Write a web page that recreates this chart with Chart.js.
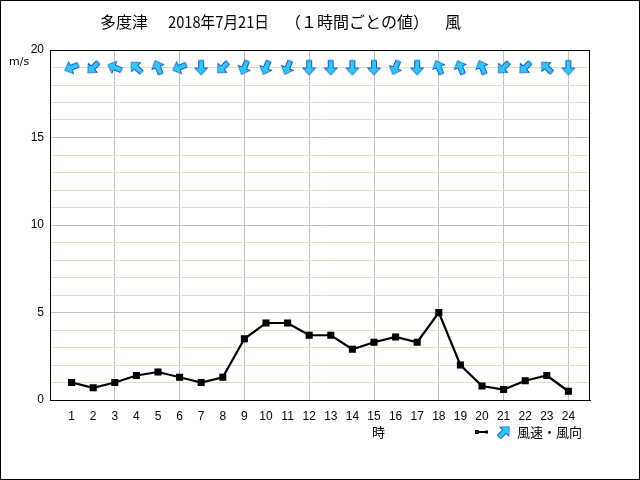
<!DOCTYPE html>
<html><head><meta charset="utf-8">
<script src="https://cdn.jsdelivr.net/npm/chart.js@4.4.0/dist/chart.umd.min.js"></script>
<style>html,body{margin:0;padding:0;background:#fff;}</style>
</head><body>
<canvas id="c" width="640" height="480"></canvas>
<script>
const hours = [1,2,3,4,5,6,7,8,9,10,11,12,13,14,15,16,17,18,19,20,21,22,23,24];
const windSpeed = [1.0,0.7,1.0,1.4,1.6,1.3,1.0,1.3,3.5,4.4,4.4,3.7,3.7,2.9,3.3,3.6,3.3,5.0,2.0,0.8,0.6,1.1,1.4,0.5];
const windDir = ["ENE","NE","ESE","SE","SSE","ENE","N","NE","NNE","NNE","NNE","N","N","N","N","NNE","N","SSE","SSE","SSE","NE","NE","SE","N"];
const yTickLabels = [0,5,10,15,20];
const arrowRowY = 19;
const titleParts = ["多度津", "2018年7月21日", "（１時間ごとの値）", "風"];
const unitText = "m/s";
const xTitleText = "時";
const legendText = "風速・風向";

const compass = ["N","NNE","NE","ENE","E","ESE","SE","SSE","S","SSW","SW","WSW","W","WNW","NW","NNW"];

function makeArrow(){
  const c = document.createElement('canvas');
  c.width = 18; c.height = 18;
  const g = c.getContext('2d');
  g.beginPath();
  g.moveTo(9,1.5); g.lineTo(15.5,8.5); g.lineTo(11.5,8.5); g.lineTo(11.5,16);
  g.lineTo(6.5,16); g.lineTo(6.5,8.5); g.lineTo(2.5,8.5); g.closePath();
  g.fillStyle = '#36c4f7'; g.fill();
  g.strokeStyle = '#0a5fc0'; g.lineWidth = 1; g.stroke();
  return c;
}
const arrowImg = makeArrow();

const cjk = '"Noto Sans CJK JP", sans-serif';

const decor = {
  id: 'decor',
  afterDraw(chart){
    const ctx = chart.ctx, a = chart.chartArea;
    ctx.save();
    ctx.strokeStyle = '#000'; ctx.lineWidth = 1;
    ctx.strokeRect(a.left+0.5, a.top+0.5, a.right-a.left-1, a.bottom-a.top);
    ctx.strokeRect(0.5,0.5,639,479);
    ctx.fillStyle = '#000';
    ctx.textBaseline = 'middle';
    ctx.font = '16px ' + cjk;
    ctx.textAlign = 'left';
    const tx = [100, 168, 285, 445];
    const tw = [52, 101, 148, 16];
    titleParts.forEach((t,i)=>ctx.fillText(t, tx[i], 22, tw[i]));
    ctx.font = '11px "DejaVu Sans", sans-serif';
    ctx.fillText(unitText, 9, 62);
    ctx.font = '13px ' + cjk;
    ctx.fillText(xTitleText, 372, 432);
    // legend
    ctx.lineWidth = 2;
    ctx.beginPath(); ctx.moveTo(476,432); ctx.lineTo(487,432); ctx.stroke();
    ctx.fillRect(475,430,4,4); ctx.fillRect(485,430.5,3,3);
    ctx.translate(504,432); ctx.rotate(Math.PI/4);
    ctx.drawImage(arrowImg,-9,-9);
    ctx.setTransform(1,0,0,1,0,0);
    ctx.font = '13px ' + cjk;
    ctx.fillText(legendText, 517, 432);
    ctx.restore();
  }
};

new Chart(document.getElementById('c'), {
  type: 'line',
  data: {
    datasets: [
      {
        data: hours.map((h,i)=>({x:h, y:windSpeed[i]})),
        borderColor: '#000', backgroundColor: '#000', borderWidth: 2.2,
        pointStyle: 'rect', pointRadius: 5, pointBackgroundColor:'#000', pointBorderWidth:0,
        tension: 0
      },
      {
        data: hours.map(h=>({x:h, y:arrowRowY})),
        showLine: false,
        pointStyle: arrowImg,
        pointRadius: 9,
        rotation: (ctx)=> compass.indexOf(windDir[ctx.dataIndex]) * 22.5 + 180
      }
    ]
  },
  options: {
    responsive: false, animation: false, devicePixelRatio: 1,
    layout: { padding: { top: 50, right: 50, left: 0, bottom: 0 } },
    plugins: { legend: {display:false}, tooltip: {enabled:false}, title:{display:false} },
    scales: {
      x: {
        type: 'linear', min: 0, max: 25,
        afterBuildTicks: (axis)=>{ axis.ticks = hours.map(v=>({value:v})); },
        afterFit: (axis)=>{ axis.height = 80; },
        grid: { drawTicks:false, color: (c)=> (c.tick && c.tick.value % 3 === 0) ? '#c0c0c0' : 'rgba(0,0,0,0)', lineWidth:1 },
        border: { color:'#000' },
        ticks: { autoSkip:false, maxRotation:0, padding: 9, color:'#000',
          font: { family:'"Liberation Sans", sans-serif', size: 12 } }
      },
      y: {
        min: 0, max: 20,
        afterFit: (axis)=>{ axis.width = 50; },
        ticks: { stepSize: 1, padding: 6, color:'#000',
          callback: (v)=> yTickLabels.includes(v) ? String(v) : '',
          font: { family:'"Liberation Sans", sans-serif', size: 12 } },
        grid: { drawTicks:false, color: (c)=> (c.tick && c.tick.value % 5 === 0) ? '#c0c0c0' : '#e9ddc2', lineWidth:1 },
        border: { color:'#000' }
      }
    }
  },
  plugins: [decor]
});
</script>
</body></html>
